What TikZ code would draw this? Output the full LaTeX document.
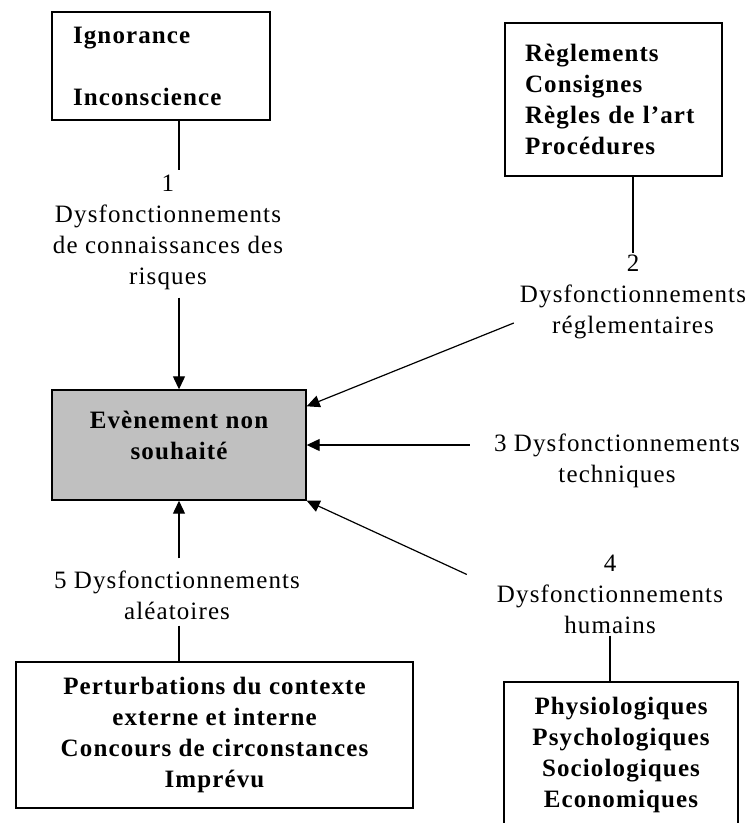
\documentclass[tikz,border=0pt]{standalone}
\usepackage{fontspec}
\setmainfont{Liberation Serif}[LetterSpace=4.5]
\usetikzlibrary{arrows.meta}
\definecolor{evtgray}{RGB}{192,192,192}
\newcommand{\dysfont}{\fontsize{25}{31}\selectfont}

\begin{document}
\begin{tikzpicture}[x=1pt, y=-1pt,
    srcbox/.style={draw=black, line width=1.4pt, inner sep=0pt,
      font=\dysfont\bfseries},
    dyslbl/.style={align=center, inner sep=2pt, font=\dysfont},
    link/.style={line width=1.2pt},
    push/.style={line width=1.2pt, -{Triangle[length=13pt, width=12pt]}}]
\useasboundingbox[fill=white] (0,0) rectangle (753,823);
% central event
\node[srcbox, fill=evtgray, minimum width=254pt, minimum height=110pt,
      align=center] (evtbox) at (179,445)
  {Evènement non\\souhaité\rule[-20pt]{0pt}{1pt}};
% source boxes
\node[srcbox, minimum width=218pt, minimum height=108pt,
      text width=176pt, align=left] (ignbox) at (161,66)
  {Ignorance\\[31pt]Inconscience};
\node[srcbox, minimum width=217pt, minimum height=153pt,
      text width=177pt, align=left] (reglbox) at (613.5,99.5)
  {Règlements\\Consignes\\Règles de l’art\\Procédures};
\node[srcbox, minimum width=397pt, minimum height=146pt,
      align=center] (pertbox) at (214.5,735)
  {Perturbations du contexte\\externe et interne\\%
   Concours de circonstances\\Imprévu};
% runs past the bottom edge of the page
\node[srcbox, minimum width=234pt, minimum height=170pt,
      align=center] (physbox) at (621,767)
  {Physiologiques\\Psychologiques\\Sociologiques\\Economiques\rule[-29pt]{0pt}{1pt}};
% labels
\node[dyslbl] (dys1) at (168,232)
  {1\\Dysfonctionnements\\de connaissances des\\risques};
\node[dyslbl] (dys2) at (633,297) {2\\Dysfonctionnements\\réglementaires};
\node[dyslbl] (dys3) at (617,461) {3 Dysfonctionnements\\techniques};
\node[dyslbl] (dys4) at (610,594) {4\\Dysfonctionnements\\humains};
\node[dyslbl] (dys5) at (177,595) {5 Dysfonctionnements\\aléatoires};
% connectors
\draw[link] (ignbox.south -| evtbox.north) -- ([yshift=2pt]dys1.north -| evtbox.north);
\draw[push] ([yshift=-6pt]dys1.south -| evtbox.north) -- (evtbox.north);
\draw[link] (dys2.north |- reglbox.south) -- (dys2.north);
\draw[push] ([xshift=-4pt, yshift=-26pt]dys2.west) -- ([yshift=-17pt]evtbox.north east);
\draw[push] ([xshift=-22pt]dys3.west |- evtbox.east) -- (evtbox.east);
\draw[push] ([xshift=-28pt, yshift=-22pt]dys4.north west) -- (evtbox.south east);
\draw[link] (dys4.south) -- (dys4.south |- physbox.north);
\draw[push] ([yshift=10pt]dys5.north -| evtbox.south) -- (evtbox.south);
\draw[link] ([yshift=-4pt]dys5.south -| evtbox.south) -- (evtbox.south |- pertbox.north);
\end{tikzpicture}
\end{document}
